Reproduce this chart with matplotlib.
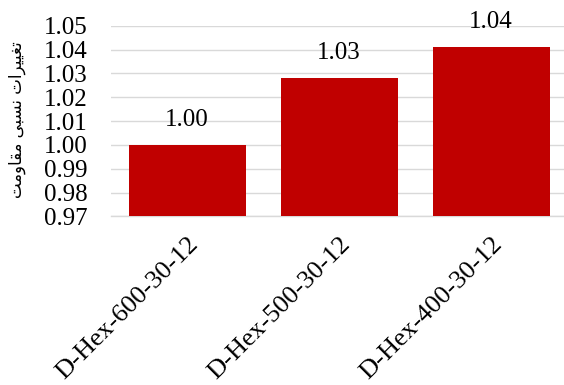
import matplotlib
matplotlib.use('Agg')
import matplotlib.pyplot as plt
import numpy as np

# Data
categories = ['D-Hex-600-30-12', 'D-Hex-500-30-12', 'D-Hex-400-30-12']
values = [1.000, 1.028, 1.041]
y_ticks = [0.97, 0.98, 0.99, 1.00, 1.01, 1.02, 1.03, 1.04, 1.05]
y_label = 'تغییرات نسبی مقاومت'

# matplotlib has no Arabic shaping, so map letters to presentation forms by hand
# letter: (isolated, final, initial, medial); None = does not join to the next letter
FORMS = {
    'ت': ('\uFE95', '\uFE96', '\uFE97', '\uFE98'),
    'غ': ('\uFECD', '\uFECE', '\uFECF', '\uFED0'),
    'ی': ('\uFBFC', '\uFBFD', '\uFBFE', '\uFBFF'),
    'ر': ('\uFEAD', '\uFEAE', None, None),
    'ا': ('\uFE8D', '\uFE8E', None, None),
    'ن': ('\uFEE5', '\uFEE6', '\uFEE7', '\uFEE8'),
    'س': ('\uFEB1', '\uFEB2', '\uFEB3', '\uFEB4'),
    'ب': ('\uFE8F', '\uFE90', '\uFE91', '\uFE92'),
    'م': ('\uFEE1', '\uFEE2', '\uFEE3', '\uFEE4'),
    'ق': ('\uFED5', '\uFED6', '\uFED7', '\uFED8'),
    'و': ('\uFEED', '\uFEEE', None, None),
}


def shape(text):
    out = []
    for i, ch in enumerate(text):
        if ch not in FORMS:
            out.append(ch)
            continue
        prev = text[i - 1] if i > 0 else ' '
        nxt = text[i + 1] if i + 1 < len(text) else ' '
        joins_prev = prev in FORMS and FORMS[prev][2] is not None
        joins_next = nxt in FORMS and FORMS[ch][2] is not None
        iso, fin, ini, med = FORMS[ch]
        if joins_prev and joins_next:
            out.append(med)
        elif joins_prev:
            out.append(fin)
        elif joins_next:
            out.append(ini)
        else:
            out.append(iso)
    return ''.join(reversed(out))


plt.rcParams['font.family'] = ['Liberation Serif', 'DejaVu Serif']

fig = plt.figure(figsize=(5.64, 3.85), dpi=100)
ax = fig.add_axes([0.197, 0.438, 0.803, 0.495])

x = np.arange(len(categories))
bars = ax.bar(x, values, width=0.77, color='#C00000', zorder=3)

for xi, v in zip(x, values):
    ax.annotate(f'{v:.2f}', (xi, v), xytext=(0, 10), textcoords='offset points',
                ha='center', va='bottom', fontsize=18, color='#000000')

ax.set_ylim(0.97, 1.05)
ax.set_xlim(-0.5, 2.48)
ax.set_yticks(y_ticks)
ax.set_yticklabels([f'{t:.2f}' for t in y_ticks])
ax.set_xticks(x)
ax.set_xticklabels(categories, rotation=45, ha='right', va='top',
                   rotation_mode='anchor')

ax.tick_params(axis='y', length=0, pad=17, labelsize=18)
ax.tick_params(axis='x', length=0, pad=12, labelsize=19)

ax.yaxis.grid(True, color='#D9D9D9', linewidth=1.0, zorder=0)
ax.set_axisbelow(True)
for side in ['top', 'right', 'left']:
    ax.spines[side].set_visible(False)
ax.spines['bottom'].set_color('#D9D9D9')
ax.spines['bottom'].set_linewidth(1.0)

fig.text(0.03, 0.688, shape(y_label), rotation=90, ha='center', va='center',
         fontsize=12, family=['DejaVu Sans'])

fig.savefig('out.png', dpi=100)
